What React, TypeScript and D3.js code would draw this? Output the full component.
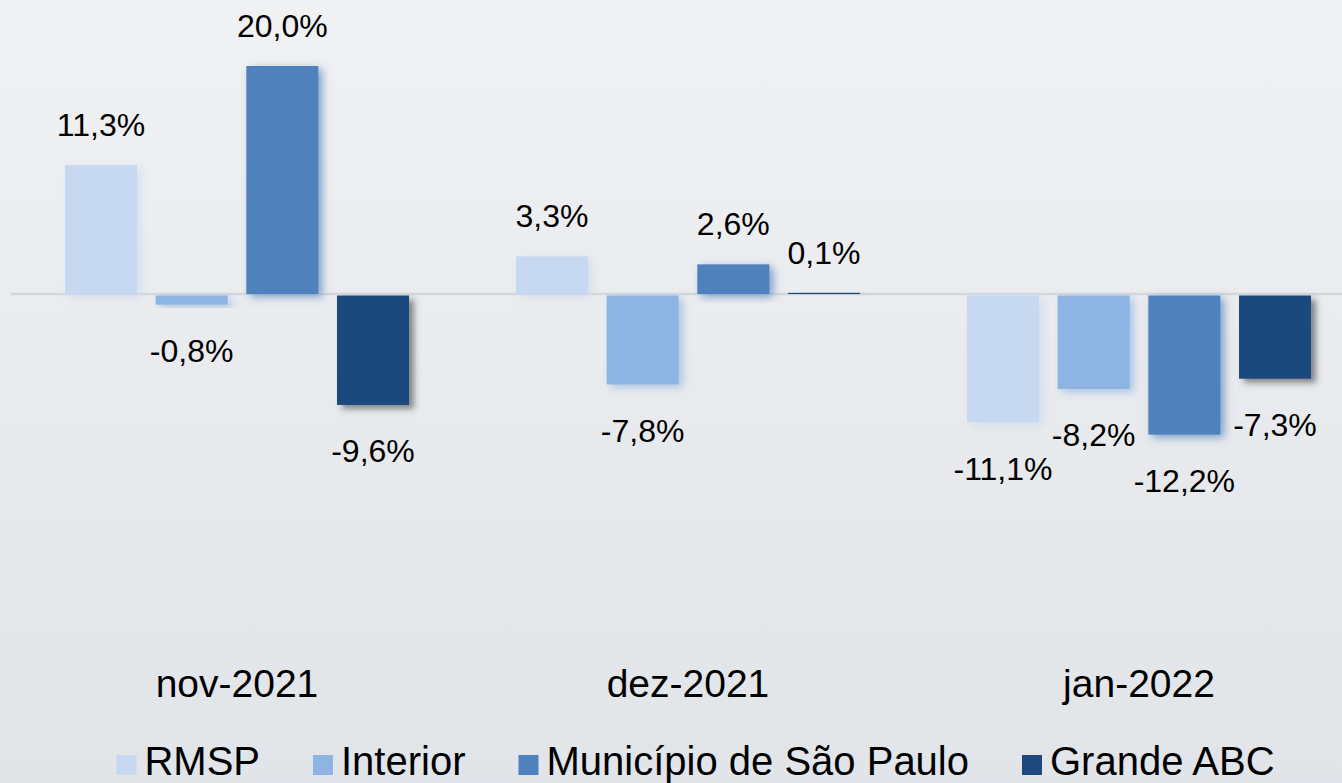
import React, { useEffect, useRef } from "react";
import * as d3 from "d3";

const categories = ["nov-2021", "dez-2021", "jan-2022"];
const seriesNames = ["RMSP", "Interior", "Município de São Paulo", "Grande ABC"];
const rmsp = [11.3, 3.3, -11.1];
const interior = [-0.8, -7.8, -8.2];
const municipio = [20.0, 2.6, -12.2];
const grandeAbc = [-9.6, 0.1, -7.3];
const seriesValues = [rmsp, interior, municipio, grandeAbc];
const colors = ["#c6d9f1", "#8eb4e3", "#4f81bd", "#1f497d"];

const W = 1342;
const H = 783;
const FONT = "'Liberation Sans', Arial, sans-serif";

export default function App() {
  const ref = useRef<SVGSVGElement | null>(null);

  useEffect(() => {
    const svg = d3.select(ref.current);
    svg.selectAll("*").remove();

    const defs = svg.append("defs");
    const grad = defs
      .append("linearGradient")
      .attr("id", "bg")
      .attr("x1", 0)
      .attr("y1", 0)
      .attr("x2", 0)
      .attr("y2", 1);
    grad.append("stop").attr("offset", "0%").attr("stop-color", "#f0f1f3");
    grad.append("stop").attr("offset", "100%").attr("stop-color", "#e1e4e8");

    colors.forEach((c, i) => {
      const f = defs
        .append("filter")
        .attr("id", `sh${i}`)
        .attr("x", "-20%")
        .attr("y", "-20%")
        .attr("width", "150%")
        .attr("height", "150%");
      f.append("feDropShadow")
        .attr("dx", i === 3 ? 5 : 4)
        .attr("dy", i === 3 ? 4 : 3)
        .attr("stdDeviation", i === 3 ? 3 : 4)
        .attr("flood-color", i === 3 ? "#333" : c)
        .attr("flood-opacity", i === 3 ? 0.55 : 0.7);
    });

    svg.append("rect").attr("width", W).attr("height", H).attr("fill", "url(#bg)");

    const x0 = d3.scaleBand<string>().domain(categories).range([11.5, 1364.5]).paddingInner(0).paddingOuter(0);
    const x1 = d3
      .scaleBand<string>()
      .domain(seriesNames)
      .range([0, x0.bandwidth()])
      .paddingInner(0.206)
      .paddingOuter(0.59);
    const y = d3.scaleLinear().domain([-20, 25]).range([522, 9]);

    svg
      .append("line")
      .attr("x1", 11)
      .attr("x2", W)
      .attr("y1", y(0))
      .attr("y2", y(0))
      .attr("stroke", "#d5d7da")
      .attr("stroke-width", 2.5);

    seriesNames.forEach((s, si) => {
      const g = svg.append("g");
      categories.forEach((c, ci) => {
        const v = seriesValues[si][ci];
        const bx = (x0(c) || 0) + (x1(s) || 0);
        const top = Math.min(y(v), y(0));
        const h = Math.max(Math.abs(y(v) - y(0)), 1);
        g.append("rect")
          .attr("x", bx)
          .attr("y", v >= 0 ? top : y(0) + 1.5)
          .attr("width", x1.bandwidth())
          .attr("height", h)
          .attr("fill", colors[si])
          .attr("filter", `url(#sh${si})`);
      });
    });

    const fmt = (v: number) => v.toFixed(1).replace(".", ",") + "%";
    seriesNames.forEach((s, si) => {
      categories.forEach((c, ci) => {
        const v = seriesValues[si][ci];
        const cx = (x0(c) || 0) + (x1(s) || 0) + x1.bandwidth() / 2;
        svg
          .append("text")
          .attr("x", cx)
          .attr("y", v >= 0 ? y(v) - 29 : y(v) + 59)
          .attr("text-anchor", "middle")
          .attr("font-family", FONT)
          .attr("font-size", 32)
          .attr("fill", "#000")
          .text(fmt(v));
      });
    });

    categories.forEach((c) => {
      svg
        .append("text")
        .attr("x", (x0(c) || 0) + x0.bandwidth() / 2)
        .attr("y", 697)
        .attr("text-anchor", "middle")
        .attr("font-family", FONT)
        .attr("font-size", 39)
        .attr("fill", "#000")
        .text(c);
    });

    // legend
    const lg = svg.append("g");
    const sq = 20;
    const gapSq = 8;
    const gapItem = 53;
    let cursor = 0;
    seriesNames.forEach((s, si) => {
      const item = lg.append("g").attr("transform", `translate(${cursor},0)`);
      item.append("rect").attr("x", 0).attr("y", 755).attr("width", sq).attr("height", sq).attr("fill", colors[si]);
      const t = item
        .append("text")
        .attr("x", sq + gapSq)
        .attr("y", 775)
        .attr("font-family", FONT)
        .attr("font-size", 40)
        .attr("fill", "#000")
        .text(s);
      const w = (t.node() as SVGTextElement).getComputedTextLength();
      cursor += sq + gapSq + w + gapItem;
    });
    const total = cursor - gapItem;
    lg.attr("transform", `translate(${695.5 - total / 2},0)`);
  }, []);

  return (
    <svg
      ref={ref}
      width={W}
      height={H}
      style={{ position: "absolute", left: 0, top: 0, display: "block" }}
    />
  );
}
